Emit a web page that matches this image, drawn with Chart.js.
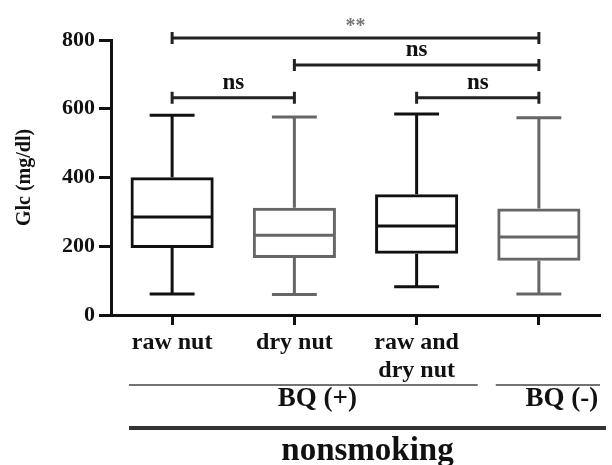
<!DOCTYPE html>
<html>
<head>
<meta charset="utf-8">
<script src="https://cdn.jsdelivr.net/npm/chart.js@4/dist/chart.umd.min.js"></script>
<style>
    html, body { margin: 0; padding: 0; background: #fff; }
    #wrap { width: 612px; height: 465px; }
</style>
</head>
<body>
<div id="wrap"><canvas id="glcChart" width="612" height="465"></canvas></div>
<script>
// --- data ---
const categories = [['raw nut'], ['dry nut'], ['raw and', 'dry nut'], ''];
const whiskerMin = [61, 60, 82, 61];
const q1 = [195, 166, 178, 158];
const medians = [285, 232, 259, 227];
const q3 = [401, 312, 351, 310];
const whiskerMax = [581, 576, 585, 574];
const yTicks = [0, 200, 400, 600, 800];

// significance brackets (category index from/to, y level, label)
const bracketFrom = [0, 1, 0, 2];
const bracketTo = [3, 3, 1, 3];
const bracketLevel = [806, 727, 632, 632];
const bracketLabel = ['**', 'ns', 'ns', 'ns'];

// groups below the x axis
const groupLabels = ['BQ (+)', 'BQ (-)'];
const groupFrom = [0, 3];
const groupTo = [2, 3];
const outerGroupLabel = 'nonsmoking';

const BLACK = '#111111';
const GRAY = '#666666';
const boxColors = [BLACK, GRAY, BLACK, GRAY];
const serif = '"Liberation Serif", "Times New Roman", serif';

// whiskers, caps and medians on top of the floating bars
const boxPlotExtras = {
    id: 'boxPlotExtras',
    afterDatasetsDraw(chart) {
        const ctx = chart.ctx;
        const y = chart.scales.y;
        const meta = chart.getDatasetMeta(0);
        meta.data.forEach((bar, i) => {
            const { x, width } = bar.getProps(['x', 'width'], true);
            const half = width / 2;
            const cap = width * 0.27;
            const pMin = y.getPixelForValue(whiskerMin[i]);
            const pMax = y.getPixelForValue(whiskerMax[i]);
            const pQ1 = y.getPixelForValue(q1[i]);
            const pQ3 = y.getPixelForValue(q3[i]);
            const pMed = y.getPixelForValue(medians[i]);
            ctx.save();
            ctx.strokeStyle = boxColors[i];
            ctx.lineWidth = 3;
            ctx.beginPath();
            ctx.moveTo(x - half + 1, pMed); ctx.lineTo(x + half - 1, pMed);
            ctx.moveTo(x, pQ3); ctx.lineTo(x, pMax);
            ctx.moveTo(x - cap, pMax); ctx.lineTo(x + cap, pMax);
            ctx.moveTo(x, pQ1); ctx.lineTo(x, pMin);
            ctx.moveTo(x - cap, pMin); ctx.lineTo(x + cap, pMin);
            ctx.stroke();
            ctx.restore();
        });
    }
};

// significance brackets above the boxes
const sigBrackets = {
    id: 'sigBrackets',
    afterDraw(chart) {
        const ctx = chart.ctx;
        const xs = chart.scales.x, ys = chart.scales.y;
        ctx.save();
        bracketLabel.forEach((lab, i) => {
            const x1 = xs.getPixelForValue(bracketFrom[i]);
            const x2 = xs.getPixelForValue(bracketTo[i]);
            const py = ys.getPixelForValue(bracketLevel[i]);
            ctx.strokeStyle = '#222';
            ctx.lineWidth = 3;
            ctx.beginPath();
            ctx.moveTo(x1, py); ctx.lineTo(x2, py);
            ctx.moveTo(x1, py - 6); ctx.lineTo(x1, py + 6);
            ctx.moveTo(x2, py - 6); ctx.lineTo(x2, py + 6);
            ctx.stroke();
            ctx.textAlign = 'center';
            ctx.textBaseline = 'alphabetic';
            if (lab === '**') {
                ctx.fillStyle = '#777';
                ctx.font = 'bold 20px ' + serif;
                ctx.fillText(lab, (x1 + x2) / 2, py - 6);
            } else {
                ctx.fillStyle = BLACK;
                ctx.font = 'bold 23px ' + serif;
                ctx.fillText(lab, (x1 + x2) / 2, py - 9);
            }
        });
        ctx.restore();
    }
};

// group lines and labels under the category labels
const groupAxis = {
    id: 'groupAxis',
    afterDraw(chart) {
        const ctx = chart.ctx;
        const xs = chart.scales.x;
        const step = xs.getPixelForValue(1) - xs.getPixelForValue(0);
        ctx.save();
        ctx.textAlign = 'center';
        ctx.textBaseline = 'alphabetic';
        groupLabels.forEach((lab, i) => {
            const left = xs.getPixelForValue(groupFrom[i]) - step / 2 + 18;
            const right = xs.getPixelForValue(groupTo[i]) + step / 2;
            ctx.strokeStyle = '#444';
            ctx.lineWidth = 1.5;
            ctx.beginPath();
            ctx.moveTo(left, 385); ctx.lineTo(right, 385);
            ctx.stroke();
            ctx.fillStyle = BLACK;
            ctx.font = 'bold 27px ' + serif;
            ctx.fillText(lab, (left + right) / 2 + 14, 406);
        });
        const l0 = xs.getPixelForValue(0) - step / 2 + 18;
        const r0 = xs.getPixelForValue(categories.length - 1) + step / 2 + 6;
        ctx.strokeStyle = '#333';
        ctx.lineWidth = 4;
        ctx.beginPath();
        ctx.moveTo(l0, 428); ctx.lineTo(r0, 428);
        ctx.stroke();
        ctx.font = 'bold 33px ' + serif;
        ctx.fillText(outerGroupLabel, (l0 + r0) / 2, 460);
        ctx.restore();
    }
};

const ctx = document.getElementById('glcChart').getContext('2d');
new Chart(ctx, {
    type: 'bar',
    data: {
        labels: categories,
        datasets: [{
            data: q1.map((v, i) => [v, q3[i]]),
            backgroundColor: 'rgba(255,255,255,0)',
            borderColor: boxColors,
            borderWidth: 3,
            borderSkipped: false,
            categoryPercentage: 1,
            barPercentage: 0.68
        }]
    },
    options: {
        responsive: false,
        animation: false,
        layout: { padding: { top: 40, right: 12, left: 0, bottom: 0 } },
        plugins: {
            legend: { display: false },
            tooltip: { enabled: false }
        },
        scales: {
            x: {
                afterFit: s => { s.height = 150; },
                border: { color: BLACK, width: 3 },
                grid: {
                    offset: false,
                    drawOnChartArea: false,
                    drawTicks: true,
                    tickLength: 10,
                    tickWidth: 3,
                    tickColor: BLACK
                },
                ticks: {
                    color: BLACK,
                    padding: 3,
                    maxRotation: 0,
                    autoSkip: false,
                    font: { family: serif, size: 24, weight: 'bold', lineHeight: 1.2 }
                }
            },
            y: {
                min: 0,
                max: 800,
                afterFit: s => { s.width = 111; },
                afterBuildTicks: s => { s.ticks = yTicks.map(v => ({ value: v })); },
                border: { color: BLACK, width: 3 },
                grid: {
                    drawOnChartArea: false,
                    drawTicks: true,
                    tickLength: 12,
                    tickWidth: 3,
                    tickColor: BLACK
                },
                ticks: {
                    color: BLACK,
                    padding: 4,
                    font: { family: serif, size: 22, weight: 'bold' }
                },
                title: {
                    display: true,
                    text: 'Glc (mg/dl)',
                    color: BLACK,
                    padding: { top: 13, bottom: 0 },
                    font: { family: serif, size: 20, weight: 'bold', lineHeight: 1.2 }
                }
            }
        }
    },
    plugins: [boxPlotExtras, sigBrackets, groupAxis]
});
</script>
</body>
</html>
